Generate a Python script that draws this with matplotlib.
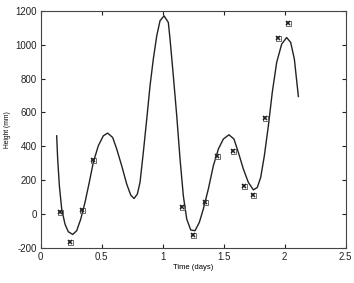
import matplotlib
matplotlib.use("Agg")
import matplotlib.pyplot as plt

# fitted curve
curve_t = [0.131, 0.139, 0.153, 0.172, 0.199, 0.226, 0.262, 0.295, 0.328, 0.363, 0.398, 0.431,
           0.472, 0.513, 0.549, 0.590, 0.623, 0.664, 0.705, 0.738, 0.765, 0.792, 0.814, 0.841,
           0.869, 0.896, 0.923, 0.951, 0.978, 1.011, 1.046, 1.060, 1.087, 1.115, 1.142, 1.169,
           1.197, 1.230, 1.265, 1.300, 1.333, 1.374, 1.415, 1.456, 1.497, 1.543, 1.584, 1.620,
           1.661, 1.702, 1.743, 1.775, 1.803, 1.833, 1.866, 1.898, 1.934, 1.975, 2.016, 2.049,
           2.079, 2.112]
curve_h = [462, 325, 167, 30, -59, -104, -120, -98, -30, 69, 187, 305,
           403, 462, 478, 452, 384, 285, 177, 112, 92, 118, 187, 364,
           560, 757, 915, 1052, 1141, 1170, 1131, 1033, 816, 580, 325, 108,
           -30, -94, -98, -49, 30, 148, 285, 384, 443, 468, 443, 364,
           266, 187, 143, 157, 216, 344, 521, 718, 895, 1003, 1042, 1013,
           915, 694]

# observed data points
obs_t = [0.158, 0.240, 0.339, 0.431, 1.161, 1.251, 1.347, 1.443, 1.579, 1.666, 1.740, 1.838, 1.942, 2.027]
obs_h = [14, -167, 25, 320, 40, -122, 73, 342, 372, 167, 112, 568, 1038, 1127]

xticks = [0, 0.5, 1, 1.5, 2, 2.5]
xticklabels = ["0", "0.5", "1", "1.5", "2", "2.5"]
yticks = [-200, 0, 200, 400, 600, 800, 1000, 1200]
yticklabels = ["-200", "0", "200", "400", "600", "800", "1000", "1200"]

plt.rcParams['font.family'] = ['Liberation Sans', 'DejaVu Sans']

fig = plt.figure(figsize=(3.54, 2.83), dpi=100)
ax = fig.add_axes([0.115, 0.1237, 0.8616, 0.8383])

ax.plot(curve_t, curve_h, color='#222222', lw=1.0, solid_joinstyle='round')
ax.plot(obs_t, obs_h, linestyle='none', marker='s', color='#555555', markersize=3.6,
        mfc='none', mew=0.6)
ax.plot(obs_t, obs_h, linestyle='none', marker='x', color='#222222', markersize=3.0, mew=1.1)

ax.set_xlim(0, 2.5)
ax.set_ylim(-200, 1200)
ax.set_xticks(xticks)
ax.set_xticklabels(xticklabels)
ax.set_yticks(yticks)
ax.set_yticklabels(yticklabels)
ax.tick_params(direction='in', top=True, right=True, labelsize=7, length=3, width=0.8,
               colors='#222222', pad=3)
for s in ax.spines.values():
    s.set_linewidth(0.8)
    s.set_color('#444444')

ax.set_xlabel('Time (days)', fontsize=5.5, labelpad=1)
ax.set_ylabel('Height (mm)', fontsize=4.8, labelpad=3)

fig.savefig('out.png', dpi=100)
